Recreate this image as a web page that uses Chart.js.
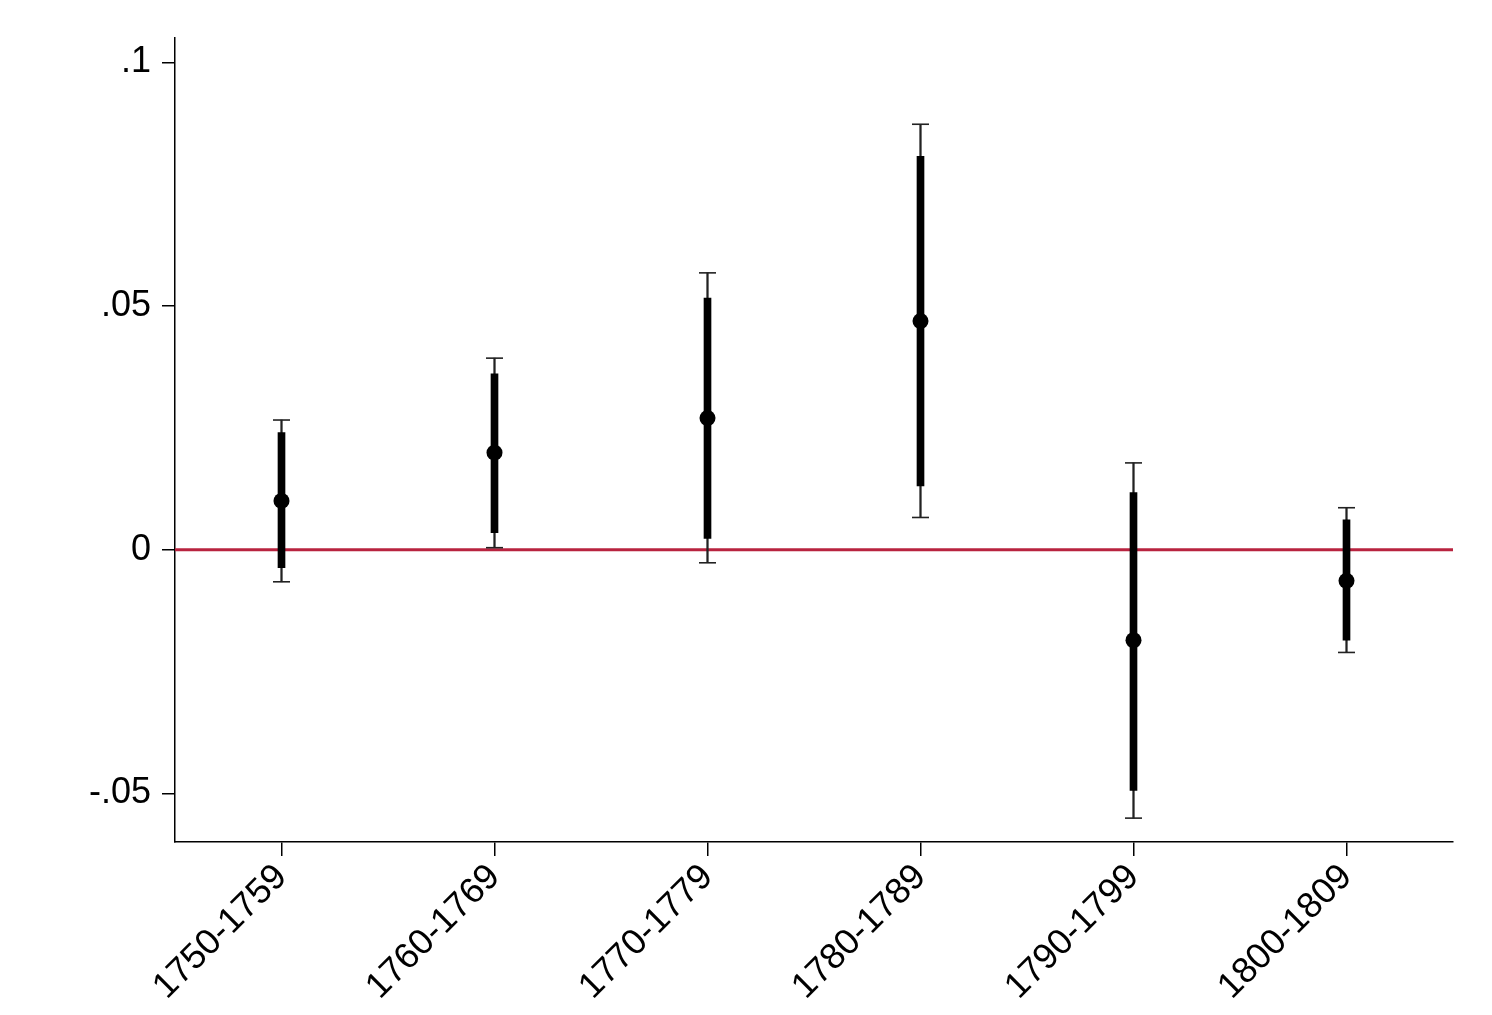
<!DOCTYPE html>
<html>
<head>
<meta charset="utf-8">
<script src="https://cdn.jsdelivr.net/npm/chart.js@4/dist/chart.umd.min.js"></script>
<style>
  html, body { margin: 0; padding: 0; background: #fff; }
  #wrap { width: 1492px; height: 1015px; }
</style>
</head>
<body>
<div id="wrap"><canvas id="chart" width="1492" height="1015"></canvas></div>
<script>
const decades = ['1750-1759', '1760-1769', '1770-1779', '1780-1789', '1790-1799', '1800-1809'];
const estimates = [0.0100, 0.0199, 0.0270, 0.0469, -0.0186, -0.0064];
const ci90Low = [-0.0037, 0.0035, 0.0023, 0.0131, -0.0494, -0.0186];
const ci90High = [0.0240, 0.0361, 0.0516, 0.0807, 0.0117, 0.0061];
const ci95Low = [-0.0066, 0.0004, -0.0027, 0.0066, -0.0551, -0.0211];
const ci95High = [0.0266, 0.0393, 0.0568, 0.0873, 0.0178, 0.0086];
const yTicks = [-0.05, 0, 0.05, 0.1];

const axisFont = { family: '"Liberation Sans", Arial, sans-serif', size: 36 };

// red reference line at zero, drawn under the estimates
const zeroLine = {
    id: 'zeroLine',
    beforeDatasetsDraw(chart) {
        const y = chart.scales.y.getPixelForValue(0);
        const area = chart.chartArea;
        const ctx = chart.ctx;
        ctx.save();
        ctx.strokeStyle = '#b8233f';
        ctx.lineWidth = 3;
        ctx.beginPath();
        ctx.moveTo(area.left, y);
        ctx.lineTo(area.right, y);
        ctx.stroke();
        ctx.restore();
    }
};

function formatTick(v) {
    if (Math.abs(v) < 1e-9) return '0';
    let s = String(Math.round(v * 1000) / 1000);
    return s.replace('0.', '.');
}

new Chart(document.getElementById('chart'), {
    data: {
        labels: decades,
        datasets: [
            {
                type: 'bar',
                data: decades.map((d, i) => [ci95Low[i], ci95High[i]]),
                backgroundColor: '#222',
                barThickness: 1.6,
                grouped: false,
                order: 4
            },
            {
                type: 'bar',
                data: decades.map((d, i) => [ci90Low[i], ci90High[i]]),
                backgroundColor: '#000',
                barThickness: 7,
                grouped: false,
                order: 3
            },
            {
                type: 'line',
                data: ci95High,
                showLine: false,
                pointStyle: 'line',
                pointRadius: 8.5,
                borderColor: '#222',
                borderWidth: 1.6,
                order: 2
            },
            {
                type: 'line',
                data: ci95Low,
                showLine: false,
                pointStyle: 'line',
                pointRadius: 8.5,
                borderColor: '#222',
                borderWidth: 1.6,
                order: 2
            },
            {
                type: 'line',
                data: estimates,
                showLine: false,
                pointRadius: 8,
                pointBackgroundColor: '#000',
                pointBorderWidth: 0,
                order: 1
            }
        ]
    },
    options: {
        responsive: false,
        animation: false,
        devicePixelRatio: 1,
        layout: { padding: { left: 0, top: 38, right: 39, bottom: 0 } },
        plugins: {
            legend: { display: false },
            tooltip: { enabled: false }
        },
        scales: {
            x: {
                type: 'category',
                offset: true,
                grid: { display: true, drawOnChartArea: false, color: '#000', lineWidth: 1.5, tickLength: 14, offset: false },
                border: { display: true, color: '#000', width: 1.5 },
                ticks: {
                    color: '#000',
                    font: axisFont,
                    minRotation: 45,
                    maxRotation: 45,
                    padding: 0,
                    autoSkip: false
                },
                afterFit(scale) { scale.height = 173; }
            },
            y: {
                min: -0.06,
                max: 0.105,
                grid: { display: true, drawOnChartArea: false, color: '#000', lineWidth: 1.5, tickLength: 13 },
                border: { display: true, color: '#000', width: 1.5 },
                ticks: {
                    color: '#000',
                    font: axisFont,
                    padding: 11,
                    callback: v => formatTick(v)
                },
                afterBuildTicks(scale) {
                    scale.ticks = yTicks.map(v => ({ value: v }));
                },
                afterFit(scale) { scale.width = 175; }
            }
        }
    },
    plugins: [zeroLine]
});
</script>
</body>
</html>
